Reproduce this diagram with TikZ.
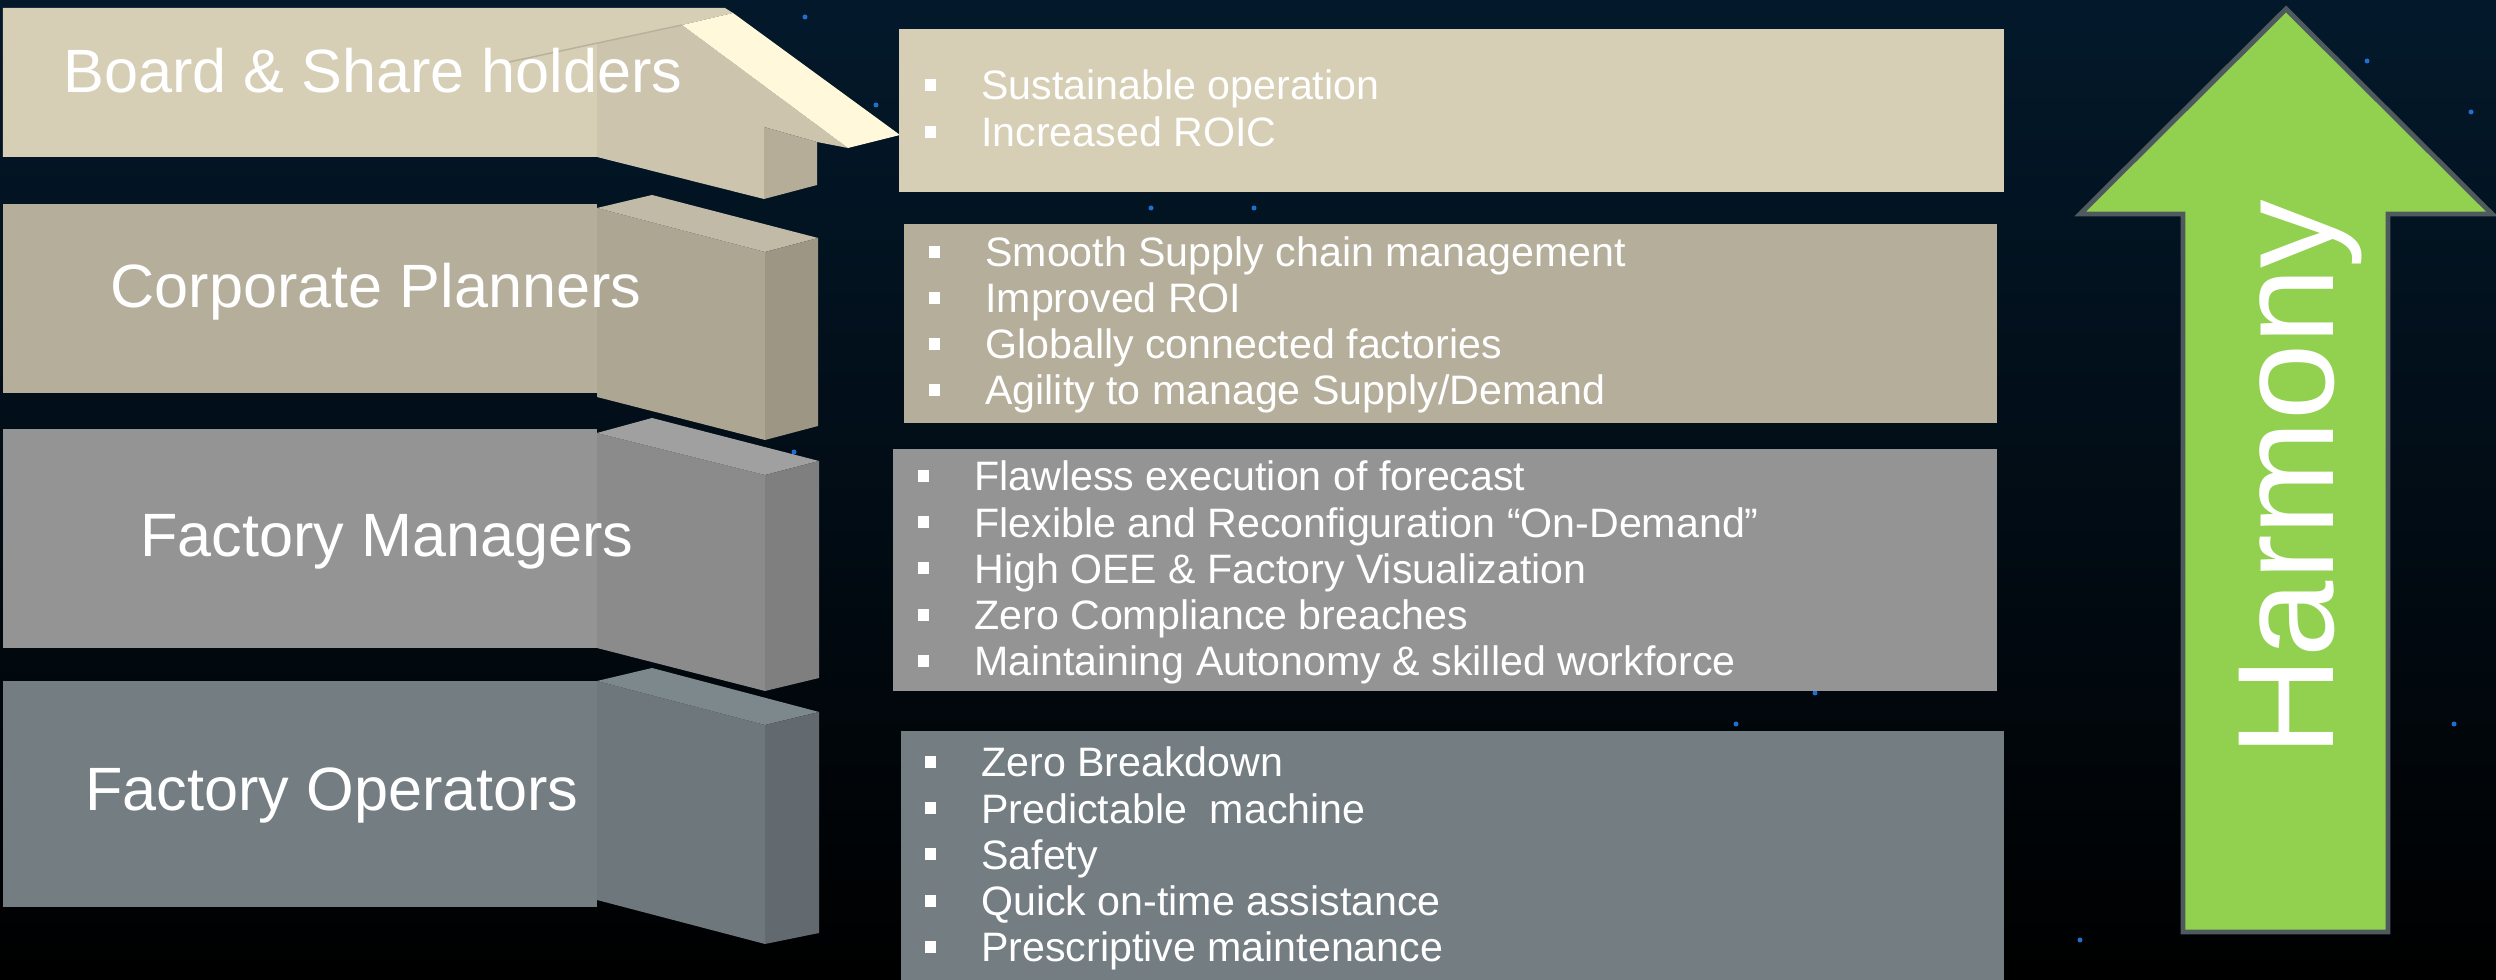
\documentclass[tikz,border=0pt]{standalone}
\usepackage{fontspec}
\setmainfont{Liberation Sans}

\definecolor{night}{HTML}{03192B}
\definecolor{stard}{HTML}{1E6FD0}
\definecolor{boardc}{HTML}{D6CEB5}
\definecolor{boardf}{HTML}{CCC4AC}
\definecolor{boards}{HTML}{B5AD98}
\definecolor{boardt}{HTML}{FFF8DA}
\definecolor{plannc}{HTML}{B5AE9B}
\definecolor{plannf}{HTML}{ADA692}
\definecolor{plannt}{HTML}{C1BAA7}
\definecolor{planns}{HTML}{9D9684}
\definecolor{managc}{HTML}{949494}
\definecolor{managf}{HTML}{8B8B8B}
\definecolor{managt}{HTML}{A0A0A0}
\definecolor{manags}{HTML}{7F7F7F}
\definecolor{operac}{HTML}{737D82}
\definecolor{operaf}{HTML}{6D777C}
\definecolor{operat}{HTML}{7D888D}
\definecolor{operas}{HTML}{626A70}
\definecolor{harmg}{HTML}{92D050}
\definecolor{harmb}{HTML}{4F5A5F}

\newcommand{\sqbul}{\rule[2.6pt]{3.1pt}{3.4pt}\hspace{13pt}}

\begin{document}
\begin{tikzpicture}[x=0.01cm, y=-0.01cm,
    lvl/.style={anchor=base, inner sep=0pt, text=white,
                font=\fontsize{17.4pt}{20pt}\selectfont},
    goal/.style={anchor=base west, inner sep=0pt, text=white,
                 font=\fontsize{11.7pt}{14pt}\selectfont}]
    \useasboundingbox (0, 0) rectangle (2496, 980);

    % Night sky
    \shade [top color=night, bottom color=black] (0, 0) rectangle (2496, 980);
    \foreach \p in {(805,17), (876,105), (1151,208), (1254,208), (794,452),
                    (1815,693), (1736,724), (2367,61), (2471,112), (2454,724), (2080,940)}
        \fill [stard] \p circle (2.5);

    % Board & share holders
    \fill [boardc] (3, 8) -- (725, 8) -- (733, 13) -- (682, 25) -- (597, 43)
          -- (597, 157) -- (3, 157) -- cycle;
    \fill [boardf] (597, 43) -- (682, 25) -- (848, 148) -- (817, 142) -- (764, 127)
          -- (764, 199) -- (597, 157) -- cycle;
    \fill [boards] (764, 127) -- (817, 142) -- (817, 185) -- (764, 199) -- cycle;
    \fill [boardt] (682, 25) -- (733, 13) -- (900, 135) -- (848, 148) -- cycle;
    \draw [boardf!90!black, thin] (509, 62) -- (682, 25);
    \node [lvl] (board) at (373, 93) {Board \& Share holders};

    % Corporate planners
    \fill [plannc] (3, 204) rectangle (597, 393);
    \fill [plannf] (597, 208) -- (765, 252) -- (765, 440) -- (597, 397) -- cycle;
    \fill [plannt] (597, 208) -- (652, 195) -- (818, 238) -- (765, 252) -- cycle;
    \fill [planns] (765, 252) -- (818, 238) -- (818, 426) -- (765, 440) -- cycle;
    \node [lvl] (planners) at (376, 308) {Corporate Planners};

    % Factory managers
    \fill [managc] (3, 429) rectangle (597, 648);
    \fill [managf] (597, 433) -- (765, 475) -- (765, 691) -- (597, 648) -- cycle;
    \fill [managt] (597, 433) -- (652, 418) -- (819, 461) -- (765, 475) -- cycle;
    \fill [manags] (765, 475) -- (819, 461) -- (819, 678) -- (765, 691) -- cycle;
    \node [lvl] (managers) at (387, 557) {Factory Managers};

    % Factory operators
    \fill [operac] (3, 681) rectangle (597, 907);
    \fill [operaf] (597, 681) -- (765, 725) -- (765, 944) -- (597, 900) -- cycle;
    \fill [operat] (597, 681) -- (652, 668) -- (819, 712) -- (765, 725) -- cycle;
    \fill [operas] (765, 725) -- (819, 712) -- (819, 933) -- (765, 944) -- cycle;
    \node [lvl] (operators) at (332, 811) {Factory Operators};

    % Goals
    \fill [boardc] (899, 29) rectangle (2004, 192);
    \foreach \txt [count=\i from 0] in {Sustainable operation, Increased ROIC}
        \node [goal] (board-\i) at (924, {100+47*\i}) {\sqbul\txt};

    \fill [plannc] (904, 224) rectangle (1997, 423);
    \foreach \txt [count=\i from 0] in {Smooth Supply chain management, Improved ROI,
                                        Globally connected factories,
                                        Agility to manage Supply/Demand}
        \node [goal] (plan-\i) at (928, {267+46*\i}) {\sqbul\txt};

    \fill [managc] (893, 449) rectangle (1997, 691);
    \foreach \txt [count=\i from 0] in {Flawless execution of forecast,
                                        Flexible and Reconfiguration “On-Demand”,
                                        High OEE \& Factory Visualization,
                                        Zero Compliance breaches,
                                        Maintaining Autonomy \& skilled workforce}
        \node [goal] (manag-\i) at (917, {491+46.25*\i}) {\sqbul\txt};

    \fill [operac] (901, 731) rectangle (2004, 980);
    \foreach \txt [count=\i from 0] in {Zero Breakdown, Predictable\ \ machine, Safety,
                                        Quick on-time assistance,
                                        Prescriptive maintenance}
        \node [goal] (opera-\i) at (924, {777+46.25*\i}) {\sqbul\txt};

    % Harmony
    \draw [harmb, fill=harmg, line width=1.4pt, line join=miter]
          (2286, 9) -- (2492, 214) -- (2388, 214) -- (2388, 932)
          -- (2183, 932) -- (2183, 214) -- (2080, 214) -- cycle;
    \node [anchor=base, inner sep=0pt, text=white, rotate=90,
           font=\fontsize{39pt}{44pt}\selectfont] (harmony) at (2333, 478) {Harmony};
\end{tikzpicture}
\end{document}
